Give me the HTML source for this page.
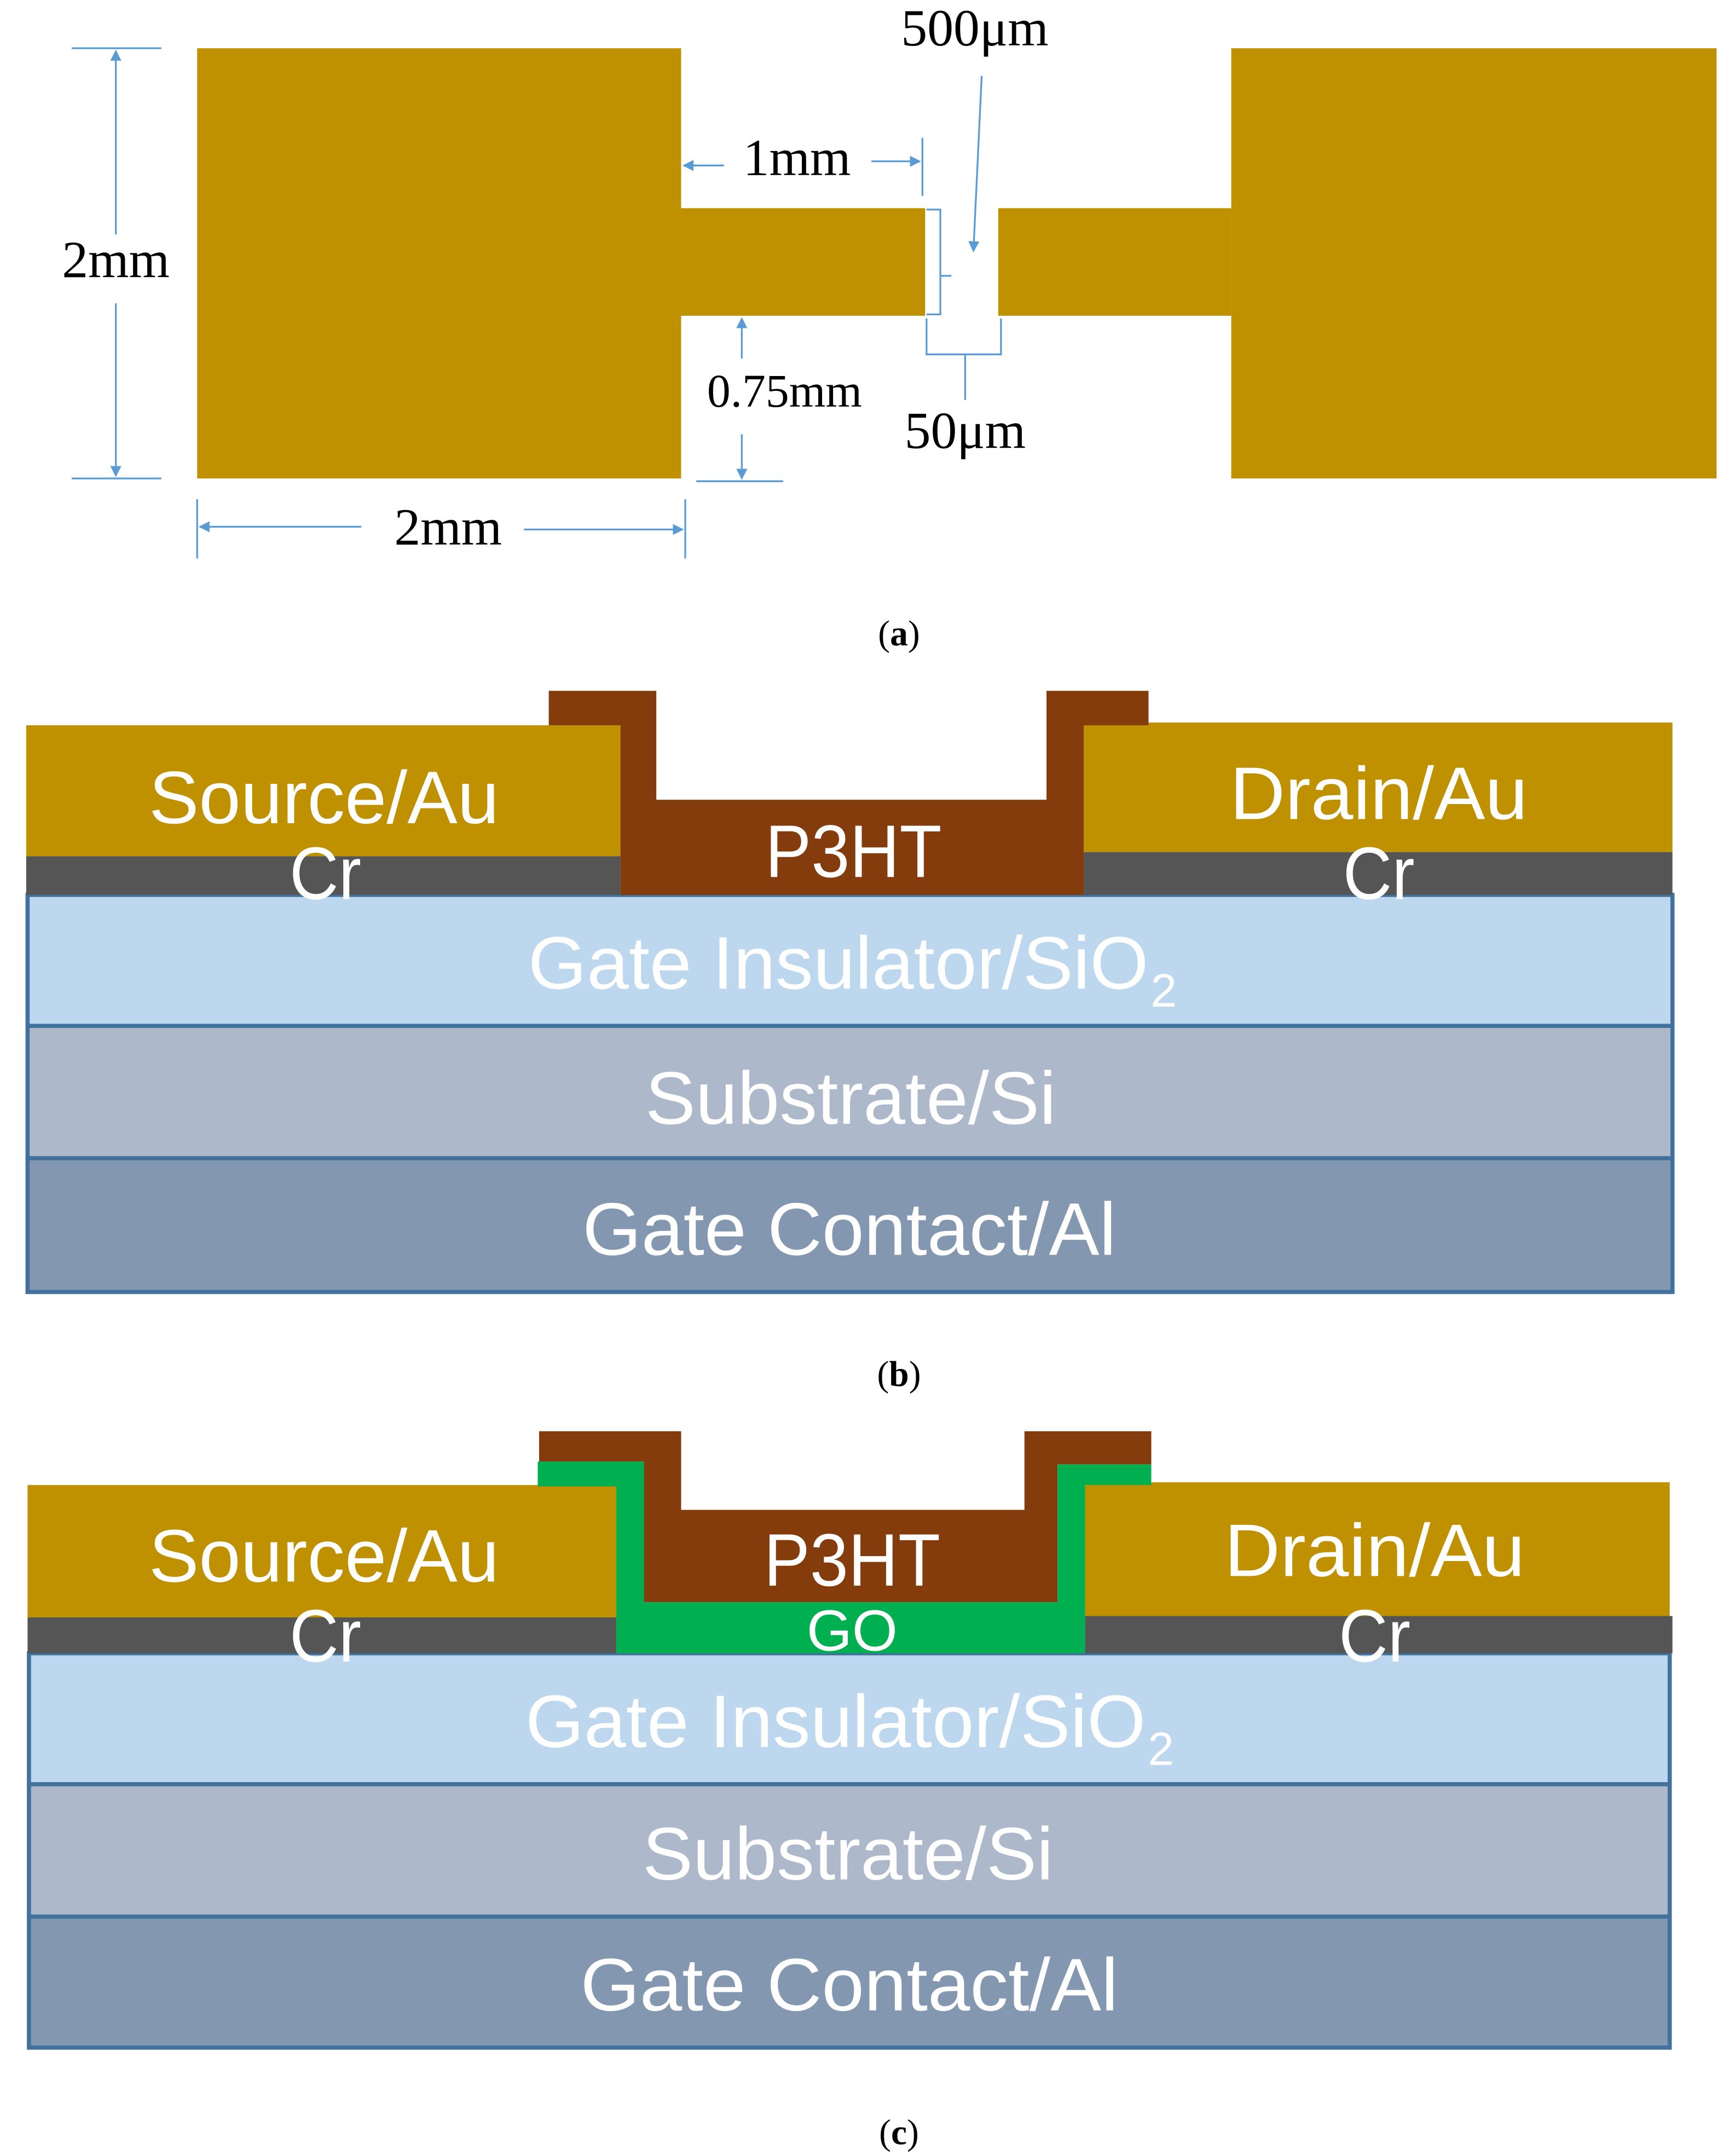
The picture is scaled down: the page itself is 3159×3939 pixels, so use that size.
<!DOCTYPE html>
<html><head><meta charset="utf-8"><style>html,body{margin:0;padding:0;background:#fff}svg{display:block}</style></head>
<body>
<svg width="3159" height="3939" viewBox="0 0 1254 1563.6" preserveAspectRatio="none" xmlns="http://www.w3.org/2000/svg">
<defs>
<marker id="ar" markerWidth="8" markerHeight="8" refX="7" refY="4" orient="auto" markerUnits="userSpaceOnUse"><path d="M0,0 L8,4 L0,8 Z" fill="#5B9BD5"/></marker>
</defs>
<rect width="1254" height="1564" fill="#fff"/>
<!-- (a) -->
<g fill="#BF9000">
<rect x="143" y="35" width="351" height="312"/>
<rect x="494" y="151" width="177" height="78"/>
<rect x="724" y="151" width="169" height="78"/>
<rect x="893" y="35" width="352" height="312"/>
</g>
<g stroke="#5B9BD5" stroke-width="1.3" fill="none">
<line x1="52" y1="35" x2="117" y2="35"/><line x1="52" y1="347" x2="117" y2="347"/>
<line x1="84" y1="170" x2="84" y2="37" marker-end="url(#ar)"/>
<line x1="84" y1="220" x2="84" y2="345" marker-end="url(#ar)"/>
<line x1="143" y1="362" x2="143" y2="405"/><line x1="497" y1="362" x2="497" y2="405"/>
<line x1="262" y1="382" x2="145" y2="382" marker-end="url(#ar)"/>
<line x1="380" y1="384" x2="495" y2="384" marker-end="url(#ar)"/>
<line x1="525" y1="120" x2="496" y2="120" marker-end="url(#ar)"/>
<line x1="632" y1="117" x2="667" y2="117" marker-end="url(#ar)"/>
<line x1="669" y1="100" x2="669" y2="142"/>
<line x1="712" y1="55" x2="706" y2="182" marker-end="url(#ar)"/>
<path d="M672,152 h10 v48 h8 M682,200 v28 h-10"/>
<path d="M672,231 v26 h28 v33 M700,257 h26 v-26"/>
<line x1="538" y1="260" x2="538" y2="231" marker-end="url(#ar)"/>
<line x1="538" y1="315" x2="538" y2="347" marker-end="url(#ar)"/>
<line x1="505" y1="349" x2="568" y2="349"/>
</g>
<g font-family="'Liberation Serif',serif" font-size="38" fill="#000" text-anchor="middle">
<text x="84" y="201">2mm</text>
<text x="325" y="395">2mm</text>
<text x="578" y="127">1mm</text>
<text x="707" y="33">500μm</text>
<text x="700" y="325">50μm</text>
<text x="569" y="295" font-size="34">0.75mm</text>
</g>
<g font-family="'Liberation Serif',serif" font-size="26" fill="#000" text-anchor="middle">
<text x="652" y="468">(<tspan font-weight="bold">a</tspan>)</text>
<text x="652" y="1005">(<tspan font-weight="bold">b</tspan>)</text>
<text x="652" y="1555">(<tspan font-weight="bold">c</tspan>)</text>
</g>
<!-- (b) -->
<g stroke="#41719C" stroke-width="3">
<rect x="20" y="649" width="1193" height="95" fill="#BDD7EE"/>
<rect x="20" y="744" width="1193" height="96" fill="#ADB9CA"/>
<rect x="20" y="840" width="1193" height="97" fill="#8497B0"/>
</g>
<rect x="19" y="526" width="431" height="95" fill="#BF9000"/>
<rect x="19" y="621" width="431" height="28" fill="#555"/>
<rect x="786" y="524" width="427" height="94" fill="#BF9000"/>
<rect x="786" y="618" width="427" height="31" fill="#555"/>
<path d="M398,501 H476 V580 H759 V501 H833 V526 H786 V649 H450 V526 H398 Z" fill="#843C0C"/>
<g font-family="'Liberation Sans Narrow','Liberation Sans',sans-serif" font-size="54" fill="#fff" text-anchor="middle">
<text x="235" y="597" textLength="254" lengthAdjust="spacingAndGlyphs">Source/Au</text>
<text x="236" y="652" textLength="52" lengthAdjust="spacingAndGlyphs">Cr</text>
<text x="619" y="636" textLength="128" lengthAdjust="spacingAndGlyphs">P3HT</text>
<text x="1000" y="594" textLength="216" lengthAdjust="spacingAndGlyphs">Drain/Au</text>
<text x="1000" y="652" textLength="52" lengthAdjust="spacingAndGlyphs">Cr</text>
<text x="608" y="717" textLength="450" lengthAdjust="spacingAndGlyphs">Gate Insulator/SiO</text>
<text x="844" y="730" font-size="34">2</text>
<text x="617" y="815" textLength="298" lengthAdjust="spacingAndGlyphs">Substrate/Si</text>
<text x="616" y="910" textLength="387" lengthAdjust="spacingAndGlyphs">Gate Contact/Al</text>
</g>
<!-- (c) -->
<g stroke="#41719C" stroke-width="3">
<rect x="21" y="1199" width="1190" height="95" fill="#BDD7EE"/>
<rect x="21" y="1294" width="1190" height="96" fill="#ADB9CA"/>
<rect x="21" y="1390" width="1190" height="95" fill="#8497B0"/>
</g>
<rect x="20" y="1077" width="427" height="96" fill="#BF9000"/>
<rect x="20" y="1173" width="427" height="26" fill="#555"/>
<rect x="787" y="1075" width="424" height="97" fill="#BF9000"/>
<rect x="787" y="1172" width="426" height="27" fill="#555"/>
<path d="M391,1038 H494 V1095 H743 V1038 H835 V1062 H767 V1162 H467 V1060 H391 Z" fill="#843C0C"/>
<path d="M390,1060 H467 V1162 H767 V1062 H835 V1077 H787 V1199 H447 V1078 H390 Z" fill="#00B050"/>
<g font-family="'Liberation Sans Narrow','Liberation Sans',sans-serif" font-size="54" fill="#fff" text-anchor="middle">
<text x="235" y="1147" textLength="254" lengthAdjust="spacingAndGlyphs">Source/Au</text>
<text x="236" y="1205" textLength="52" lengthAdjust="spacingAndGlyphs">Cr</text>
<text x="618" y="1150" textLength="128" lengthAdjust="spacingAndGlyphs">P3HT</text>
<text x="618" y="1197" font-size="42" textLength="66" lengthAdjust="spacingAndGlyphs">GO</text>
<text x="997" y="1143" textLength="218" lengthAdjust="spacingAndGlyphs">Drain/Au</text>
<text x="997" y="1205" textLength="52" lengthAdjust="spacingAndGlyphs">Cr</text>
<text x="606" y="1267" textLength="450" lengthAdjust="spacingAndGlyphs">Gate Insulator/SiO</text>
<text x="842" y="1280" font-size="34">2</text>
<text x="615" y="1363" textLength="298" lengthAdjust="spacingAndGlyphs">Substrate/Si</text>
<text x="616" y="1458" textLength="390" lengthAdjust="spacingAndGlyphs">Gate Contact/Al</text>
</g>
</svg>
</body></html>
